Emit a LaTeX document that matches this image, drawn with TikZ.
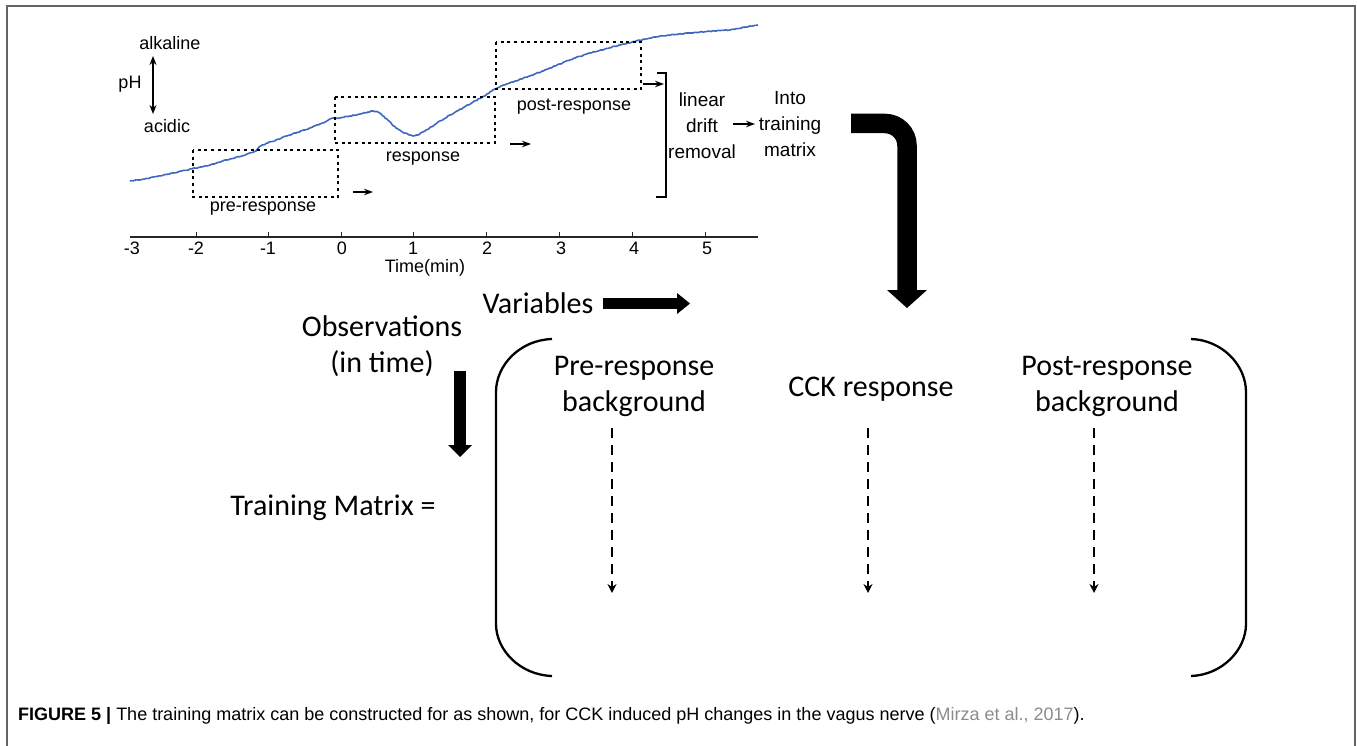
\documentclass[tikz,border=0pt]{standalone}
\usepackage{fontspec}
\setmainfont{Liberation Sans}
\newfontfamily\calfont{Carlito}
\usetikzlibrary{arrows.meta,decorations.pathmorphing}
\definecolor{curveblue}{RGB}{62,104,190}
\definecolor{framegray}{RGB}{100,100,100}
\definecolor{citegray}{RGB}{140,140,140}
\begin{document}
\begin{tikzpicture}[x=1pt,y=-1pt,
  plottxt/.style={font=\fontsize{18}{20}\selectfont, inner sep=0pt},
  sidetxt/.style={font=\fontsize{19}{26}\selectfont, inner sep=0pt, align=center},
  mattxt/.style={font=\calfont\fontsize{30}{36}\selectfont, inner sep=0pt, align=center},
  dotbox/.style={line width=1.4pt, dash pattern=on 3pt off 3.6pt},
  smallarr/.style={line width=1.3pt, -{Stealth[length=9pt,width=6.5pt,inset=3pt]}},
  dasharr/.style={line width=2.2pt, dash pattern=on 10pt off 7pt, -{Stealth[length=9pt,width=9pt,inset=3pt]}},
  bracketline/.style={line width=2.3pt}
]
\useasboundingbox (0,0) rectangle (1357,746);
% frame
\draw[framegray, line width=1.5pt] (7,746) -- (7,6) -- (1355,6) -- (1355,746);

% axis
\draw[line width=1.4pt, black!85] (130,237) -- (758,237);
\foreach \tx in {196,268,341,413,486,559,632,705} {\draw[line width=1pt, black!85] (\tx,237) -- (\tx,232);}
\node[plottxt] (tm3) at (132,248) {-3};
\node[plottxt] (tm2) at (196,248) {-2};
\node[plottxt] (tm1) at (268,248) {-1};
\node[plottxt] (t0) at (342,248) {0};
\node[plottxt] (t1) at (413,248) {1};
\node[plottxt] (t2) at (487,248) {2};
\node[plottxt] (t3) at (561,248) {3};
\node[plottxt] (t4) at (634,248) {4};
\node[plottxt] (t5) at (707,248) {5};
\node[plottxt] (timelab) at (425,268) {Time(min)};

% pH curve
\draw[curveblue, line width=1.6pt, line join=round, decorate, decoration={random steps, segment length=1.6pt, amplitude=0.5pt}]
  (130,181) -- (145,179) -- (160,176) -- (178,172) -- (196,168) -- (213,164) -- (230,159) -- (245,155) -- (256,151) -- (259,147) -- (262,145)
  -- (276,140) -- (290,135) -- (305,130) -- (320,124) -- (333,118) -- (340,118) -- (350,116) -- (360,114) -- (368,112) -- (373,111)
  -- (378,112) -- (383,116) -- (389,121) -- (396,128) -- (404,133) -- (413,136) -- (418,135) -- (425,131) -- (437,123) -- (450,115)
  -- (468,105) -- (486,95) -- (495,89) -- (512,82) -- (530,76) -- (545,70) -- (560,64) -- (575,58) -- (590,53) -- (605,49) -- (620,45)
  -- (632,42) -- (646,39) -- (660,36) -- (680,34) -- (700,32) -- (715,31) -- (730,30) -- (745,27) -- (758,25);

% dotted windows
\draw[dotbox] (193,150) rectangle (338,197);
\draw[dotbox] (335,97) rectangle (495,143);
\draw[dotbox] (496,42) rectangle (641,89);

% small arrows
\coordinate (a1s) at (353,192); \coordinate (a1e) at (373,192);
\coordinate (a2s) at (510,144); \coordinate (a2e) at (531,144);
\coordinate (a3s) at (643,84);  \coordinate (a3e) at (664,84);
\draw[smallarr] (a1s) -- (a1e);
\draw[smallarr] (a2s) -- (a2e);
\draw[smallarr] (a3s) -- (a3e);

% pH labels
\node[plottxt] (alk) at (170,43) {alkaline};
\node[plottxt] (ph) at (130,84) {pH};
\node[plottxt] (acid) at (167,126) {acidic};
\coordinate (phtop) at (153,56); \coordinate (phbot) at (153,114);
\draw[line width=1.4pt, {Stealth[length=9pt,width=7pt,inset=3pt]}-{Stealth[length=9pt,width=7pt,inset=3pt]}] (phtop) -- (phbot);

\node[plottxt] (pre) at (263,209) {pre-response};
\node[plottxt] (resp) at (423,159) {response};
\node[plottxt] (post) at (574,107) {post-response};

% bracket
\draw[line width=1.4pt] (657,73) -- (666,73) -- (666,197) -- (656,197);

\node[sidetxt] (ldr) at (702,126) {linear\\drift\\removal};
\node[sidetxt] (itm) at (790,124) {Into\\training\\matrix};
\coordinate (a4s) at (733,124); \coordinate (a4e) at (755,124);
\draw[smallarr] (a4s) -- (a4e);

% big bent arrow
\coordinate (bs) at (851,123.5);
\coordinate (bc) at (907,123.5);
\coordinate (be) at (907,291);
\draw[line width=19.5pt, rounded corners=22pt] (bs) -- (bc) -- (be);
\fill (887,290) -- (927,290) -- (907,308) -- cycle;

% variables / observations
\node[mattxt] (vars) at (538,303) {Variables};
\fill (603,298) rectangle (679,309);
\fill (677,293) -- (690,303.5) -- (677,314) -- cycle;
\node[mattxt] (obs) at (382,346) {Observations\\(in time)};
\fill (454,371) rectangle (466,446);
\fill (448,445) -- (472,445) -- (460,457) -- cycle;
\node[mattxt] (tmat) at (333,508) {Training Matrix =};

% matrix brackets
\draw[bracketline] (552,339) .. controls (520,340) and (496,365) .. (496,392) -- (496,624) .. controls (496,650) and (520,675) .. (552,676);
\draw[bracketline] (1191,339) .. controls (1222,340) and (1246,365) .. (1246,392) -- (1246,624) .. controls (1246,650) and (1222,675) .. (1191,676);

% columns
\node[mattxt] (c1) at (634,386) {Pre-response\\background};
\node[mattxt] (c2) at (871,389) {CCK response};
\node[mattxt] (c3) at (1107,386) {Post-response\\background};
\coordinate (d1s) at (612,428); \coordinate (d1e) at (612,593);
\coordinate (d2s) at (868,428); \coordinate (d2e) at (868,593);
\coordinate (d3s) at (1094,428); \coordinate (d3e) at (1094,593);
\draw[dasharr] (d1s) -- (d1e);
\draw[dasharr] (d2s) -- (d2e);
\draw[dasharr] (d3s) -- (d3e);

% caption
\node[anchor=west, inner sep=0pt, font=\fontsize{18}{20}\selectfont] (cap) at (18,716)
  {\textbf{FIGURE 5 |} The training matrix can be constructed for as shown, for CCK induced pH changes in the vagus nerve (\textcolor{citegray}{Mirza et al., 2017}).};
\end{tikzpicture}
\end{document}
